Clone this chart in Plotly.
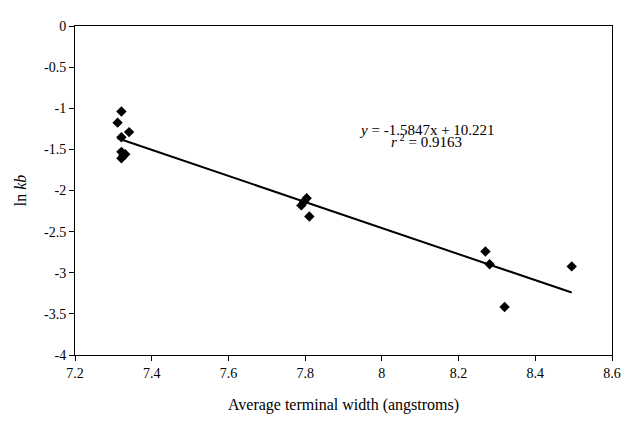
import numpy as np
import plotly.graph_objects as go

# Data
width_x = [7.321, 7.311, 7.341, 7.321, 7.321, 7.331, 7.321, 7.326,
           7.790, 7.797, 7.804, 7.811,
           8.270, 8.281, 8.320, 8.495]
ln_kb = [-1.04, -1.175, -1.29, -1.353, -1.53, -1.559, -1.609, -1.575,
         -2.181, -2.136, -2.095, -2.316,
         -2.742, -2.896, -3.417, -2.923]

slope = -1.5847
intercept = 10.221
r2 = 0.9163

x_ticks = [7.2, 7.4, 7.6, 7.8, 8.0, 8.2, 8.4, 8.6]
x_tick_labels = ["7.2", "7.4", "7.6", "7.8", "8", "8.2", "8.4", "8.6"]
y_ticks = [0, -0.5, -1, -1.5, -2, -2.5, -3, -3.5, -4]
y_tick_labels = ["0", "-0.5", "-1", "-1.5", "-2", "-2.5", "-3", "-3.5", "-4"]

FONT = "Liberation Serif, Times New Roman, serif"

fit_x = np.array([min(width_x), max(width_x)])
fit_y = slope * fit_x + intercept

fig = go.Figure()
fig.add_trace(go.Scatter(x=fit_x, y=fit_y, mode="lines",
                         line=dict(color="black", width=2), showlegend=False,
                         hoverinfo="skip"))
fig.add_trace(go.Scatter(x=width_x, y=ln_kb, mode="markers",
                         marker=dict(symbol="diamond", size=8, color="black"),
                         showlegend=False))

fig.add_annotation(x=0.655, y=0.715, xref="paper", yref="paper",
                   text=f"<i>y</i> = {slope}x + {intercept}",
                   showarrow=False, font=dict(family=FONT, size=15, color="black"))
fig.add_annotation(x=0.655, y=0.65, xref="paper", yref="paper",
                   text=f"<i>r</i><sup> 2</sup> = {r2}",
                   showarrow=False, font=dict(family=FONT, size=15, color="black"))

axis_common = dict(showline=True, linecolor="black", linewidth=1, mirror=True,
                   ticks="outside", ticklen=5, tickcolor="black",
                   showgrid=False, zeroline=False,
                   tickfont=dict(family=FONT, size=14, color="black"))

fig.update_xaxes(range=[7.2, 8.6], tickvals=x_ticks, ticktext=x_tick_labels,
                 ticklabeloverflow="allow",
                 title=dict(text="Average terminal width (angstroms)",
                            font=dict(family=FONT, size=16, color="black"),
                            standoff=19),
                 **axis_common)
fig.update_yaxes(range=[-4, 0], tickvals=y_ticks, ticktext=y_tick_labels,
                 title=dict(text="ln <i>kb</i>",
                            font=dict(family=FONT, size=16, color="black"),
                            standoff=13),
                 **axis_common)

# The page body adds an 8px margin, so the figure is sized to compensate.
fig.update_layout(width=624, height=414,
                  margin=dict(l=67, r=11, t=11, b=65),
                  plot_bgcolor="white", paper_bgcolor="white")

fig.write_html("out.html")
